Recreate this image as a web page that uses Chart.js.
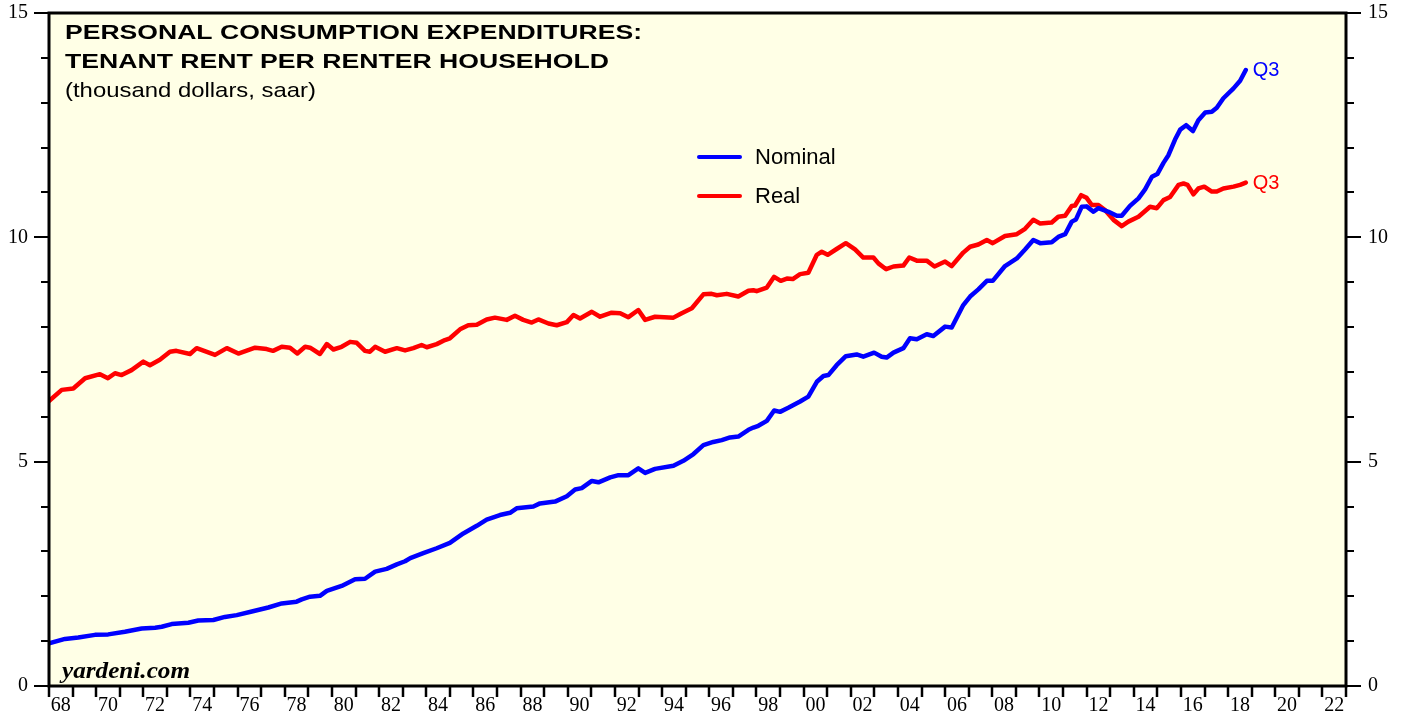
<!DOCTYPE html>
<html>
<head>
<meta charset="utf-8">
<script src="https://cdn.jsdelivr.net/npm/chart.js@4/dist/chart.umd.min.js"></script>
<style>
  html, body { margin: 0; padding: 0; background: #fff; }
  #wrap { width: 1405px; height: 719px; }
</style>
</head>
<body>
<div id="wrap"><canvas id="rent" width="1405" height="719"></canvas></div>
<script>
// thousand dollars, saar
var nominalYears = [1968.0, 1968.68, 1969.24, 1969.95, 1970.51, 1971.22, 1971.93, 1972.5, 1972.78, 1973.2,
    1973.91, 1974.33, 1974.97, 1975.46, 1975.96, 1976.6, 1977.3, 1977.87, 1978.5, 1978.72,
    1979.07, 1979.49, 1979.78, 1980.41, 1980.98, 1981.4, 1981.83, 1982.32, 1982.75, 1983.1,
    1983.32, 1983.87, 1984.44, 1985.0, 1985.57, 1986.14, 1986.56, 1987.12, 1987.55, 1987.83,
    1988.54, 1988.82, 1989.46, 1989.96, 1990.31, 1990.59, 1991.02, 1991.3, 1991.8, 1992.15,
    1992.57, 1992.99, 1993.28, 1993.7, 1994.48, 1994.9, 1995.33, 1995.75, 1996.17, 1996.53,
    1996.88, 1997.23, 1997.66, 1997.87, 1998.08, 1998.44, 1998.75, 1999.0, 1999.35, 1999.85,
    2000.2, 2000.56, 2000.84, 2001.05, 2001.4, 2001.79, 2002.25, 2002.53, 2002.99, 2003.31,
    2003.52, 2003.81, 2004.23, 2004.51, 2004.8, 2005.22, 2005.5, 2006.0, 2006.28, 2006.77,
    2007.06, 2007.41, 2007.77, 2008.02, 2008.54, 2009.04, 2009.39, 2009.74, 2010.03, 2010.52,
    2010.8, 2011.09, 2011.37, 2011.55, 2011.79, 2012.0, 2012.29, 2012.5, 2012.93, 2013.28,
    2013.49, 2013.84, 2014.2, 2014.48, 2014.77, 2015.0, 2015.26, 2015.47, 2015.75, 2015.97,
    2016.22, 2016.51, 2016.74, 2017.03, 2017.31, 2017.52, 2017.8, 2018.23, 2018.51, 2018.75]
var nominalValues = [0.95, 1.05, 1.08, 1.14, 1.15, 1.21, 1.28, 1.30, 1.32, 1.38,
    1.41, 1.46, 1.47, 1.54, 1.58, 1.66, 1.75, 1.84, 1.88, 1.93,
    1.99, 2.01, 2.12, 2.23, 2.38, 2.39, 2.55, 2.61, 2.71, 2.78,
    2.85, 2.96, 3.07, 3.19, 3.40, 3.57, 3.71, 3.81, 3.86, 3.96,
    4.00, 4.07, 4.11, 4.23, 4.38, 4.41, 4.57, 4.54, 4.65, 4.70,
    4.70, 4.85, 4.75, 4.84, 4.91, 5.02, 5.17, 5.37, 5.44, 5.48,
    5.54, 5.56, 5.71, 5.76, 5.80, 5.91, 6.14, 6.11, 6.20, 6.34,
    6.45, 6.78, 6.91, 6.93, 7.15, 7.35, 7.39, 7.34, 7.43, 7.34,
    7.32, 7.43, 7.53, 7.75, 7.73, 7.84, 7.80, 8.01, 7.99, 8.49,
    8.68, 8.84, 9.03, 9.03, 9.36, 9.53, 9.73, 9.94, 9.87, 9.89,
    10.01, 10.07, 10.35, 10.40, 10.68, 10.69, 10.57, 10.65, 10.57, 10.48,
    10.48, 10.70, 10.87, 11.07, 11.35, 11.41, 11.66, 11.83, 12.18, 12.40,
    12.50, 12.37, 12.61, 12.78, 12.80, 12.89, 13.10, 13.32, 13.49, 13.73]

var realYears = [1968.0, 1968.54, 1969.03, 1969.53, 1970.16, 1970.5, 1970.8, 1971.08, 1971.5, 1972.0,
    1972.28, 1972.7, 1973.13, 1973.4, 1973.98, 1974.26, 1975.04, 1975.54, 1976.03, 1976.74,
    1977.23, 1977.5, 1977.87, 1978.22, 1978.53, 1978.86, 1979.07, 1979.49, 1979.78, 1980.06,
    1980.41, 1980.77, 1981.05, 1981.4, 1981.61, 1981.83, 1982.25, 1982.75, 1983.1, 1983.45,
    1983.8, 1984.02, 1984.44, 1984.79, 1985.0, 1985.43, 1985.78, 1986.14, 1986.56, 1986.91,
    1987.41, 1987.76, 1988.11, 1988.47, 1988.75, 1989.18, 1989.53, 1989.96, 1990.24, 1990.52,
    1991.02, 1991.37, 1991.86, 1992.22, 1992.57, 1992.99, 1993.28, 1993.7, 1994.48, 1994.83,
    1995.26, 1995.75, 1996.1, 1996.32, 1996.74, 1997.23, 1997.66, 1997.87, 1998.01, 1998.44,
    1998.75, 1999.03, 1999.29, 1999.54, 1999.85, 2000.2, 2000.56, 2000.77, 2001.02, 2001.4,
    2001.79, 2002.18, 2002.53, 2002.96, 2003.17, 2003.5, 2003.81, 2004.23, 2004.48, 2004.8,
    2005.22, 2005.55, 2006.0, 2006.28, 2006.77, 2007.06, 2007.41, 2007.77, 2008.02, 2008.54,
    2009.04, 2009.39, 2009.74, 2010.03, 2010.52, 2010.8, 2011.09, 2011.37, 2011.51, 2011.77,
    2012.0, 2012.22, 2012.5, 2012.78, 2013.14, 2013.49, 2013.77, 2014.2, 2014.69, 2014.98,
    2015.26, 2015.54, 2015.9, 2016.11, 2016.28, 2016.53, 2016.74, 2016.99, 2017.31, 2017.52,
    2017.8, 2018.23, 2018.51, 2018.75]
var realValues = [6.35, 6.60, 6.63, 6.86, 6.95, 6.86, 6.97, 6.93, 7.04, 7.23,
    7.15, 7.27, 7.45, 7.47, 7.40, 7.53, 7.38, 7.53, 7.41, 7.54,
    7.51, 7.47, 7.56, 7.54, 7.41, 7.56, 7.54, 7.40, 7.62, 7.50,
    7.56, 7.67, 7.65, 7.47, 7.45, 7.56, 7.45, 7.53, 7.48, 7.53,
    7.60, 7.55, 7.62, 7.71, 7.75, 7.95, 8.04, 8.05, 8.17, 8.21,
    8.16, 8.25, 8.16, 8.10, 8.17, 8.08, 8.04, 8.11, 8.27, 8.19,
    8.34, 8.23, 8.32, 8.31, 8.22, 8.38, 8.16, 8.23, 8.21, 8.31,
    8.42, 8.73, 8.74, 8.71, 8.74, 8.68, 8.81, 8.82, 8.80, 8.88,
    9.12, 9.03, 9.08, 9.07, 9.18, 9.21, 9.61, 9.68, 9.61, 9.74,
    9.87, 9.73, 9.55, 9.55, 9.42, 9.29, 9.35, 9.37, 9.55, 9.48,
    9.48, 9.35, 9.46, 9.36, 9.66, 9.79, 9.84, 9.94, 9.87, 10.03,
    10.07, 10.19, 10.39, 10.31, 10.33, 10.46, 10.48, 10.70, 10.71, 10.94,
    10.88, 10.72, 10.72, 10.61, 10.39, 10.25, 10.35, 10.46, 10.68, 10.65,
    10.83, 10.90, 11.17, 11.20, 11.17, 10.96, 11.09, 11.13, 11.02, 11.02,
    11.09, 11.13, 11.17, 11.22]

var yearLabels = [68, 70, 72, 74, 76, 78, 80, 82, 84, 86, 88, 90, 92, 94, 96, 98,
    0, 2, 4, 6, 8, 10, 12, 14, 16, 18, 20, 22]
var seriesNames = ['Nominal', 'Real']
var seriesColors = ['#0000FF', '#FF0000']

var serif = '"Liberation Serif", "Times New Roman", serif'
var sans = '"Liberation Sans", Arial, Helvetica, sans-serif'

function pairs(xs, ys) {
    var out = []
    for (var i = 0; i < xs.length; i++) out.push({ x: xs[i], y: ys[i] })
    return out
}

// draws text squeezed/stretched to a set width, like the original's wide type
function fitText(ctx, text, x, y, font, w) {
    ctx.font = font
    var m = ctx.measureText(text).width
    ctx.save()
    ctx.translate(x, y)
    ctx.scale(w / m, 1)
    ctx.fillText(text, 0, 0)
    ctx.restore()
}

// no extra room for the 15 / 0 labels, the frame sits at fixed spots
function noPad(axis) {
    axis.paddingTop = 0
    axis.paddingBottom = 0
}

var decor = {
    id: 'decor',
    beforeDraw: function(chart) {
        var a = chart.chartArea, ctx = chart.ctx
        ctx.save()
        ctx.fillStyle = '#FFFFE6'
        ctx.fillRect(a.left, a.top, a.right - a.left, a.bottom - a.top)
        ctx.restore()
    },
    afterDraw: function(chart) {
        var a = chart.chartArea, ctx = chart.ctx
        var xs = chart.scales.x, ys = chart.scales.y
        ctx.save()
        ctx.strokeStyle = '#000'

        // tick marks
        ctx.lineWidth = 2
        for (var v = 0; v <= 15; v++) {
            var py = Math.round(ys.getPixelForValue(v))
            var len = v % 5 == 0 ? 15 : 8
            ctx.beginPath()
            ctx.moveTo(a.left - len, py); ctx.lineTo(a.left, py)
            ctx.moveTo(a.right, py); ctx.lineTo(a.right + len, py)
            ctx.stroke()
        }
        ctx.lineWidth = 2.5
        for (var yr = 1968; yr <= 2023; yr++) {
            var px = Math.round(xs.getPixelForValue(yr))
            ctx.beginPath()
            ctx.moveTo(px, a.bottom); ctx.lineTo(px, a.bottom + 11)
            ctx.stroke()
        }

        // frame
        ctx.lineWidth = 3
        ctx.strokeRect(a.left, a.top, a.right - a.left, a.bottom - a.top)

        // titles
        ctx.fillStyle = '#000'
        ctx.textBaseline = 'alphabetic'
        ctx.textAlign = 'left'
        fitText(ctx, 'PERSONAL CONSUMPTION EXPENDITURES:', 65, 39, 'bold 20px ' + sans, 577)
        fitText(ctx, 'TENANT RENT PER RENTER HOUSEHOLD', 65, 68, 'bold 20px ' + sans, 544)
        fitText(ctx, '(thousand dollars, saar)', 65, 97, '21px ' + sans, 251)
        fitText(ctx, 'yardeni.com', 62, 678, 'italic bold 24px ' + serif, 128)

        // legend
        var legY = [157, 196]
        ctx.lineWidth = 4
        ctx.lineCap = 'round'
        ctx.textBaseline = 'middle'
        ctx.font = '22px ' + sans
        for (var i = 0; i < seriesNames.length; i++) {
            ctx.strokeStyle = seriesColors[i]
            ctx.beginPath()
            ctx.moveTo(699, legY[i]); ctx.lineTo(740, legY[i])
            ctx.stroke()
            ctx.fillStyle = '#000'
            ctx.fillText(seriesNames[i], 755, legY[i] + 1)
        }

        // Q3 tags at the last points
        ctx.font = '20px ' + sans
        chart.data.datasets.forEach(function(ds, i) {
            var last = ds.data[ds.data.length - 1]
            ctx.fillStyle = seriesColors[i]
            ctx.fillText('Q3', xs.getPixelForValue(last.x) + 7, ys.getPixelForValue(last.y) + 1)
        })
        ctx.restore()
    }
}

var tickFont = { family: serif, size: 20 }

var ctx = document.getElementById('rent').getContext('2d')
var rentChart = new Chart(ctx, {
    type: 'line',
    data: {
        datasets: [{
            label: seriesNames[0],
            data: pairs(nominalYears, nominalValues),
            borderColor: seriesColors[0],
            borderWidth: 4.5,
            pointRadius: 0,
            borderJoinStyle: 'round',
            borderCapStyle: 'round',
            yAxisID: 'y'
        }, {
            label: seriesNames[1],
            data: pairs(realYears, realValues),
            borderColor: seriesColors[1],
            borderWidth: 4.5,
            pointRadius: 0,
            borderJoinStyle: 'round',
            borderCapStyle: 'round',
            yAxisID: 'y'
        }]
    },
    options: {
        responsive: false,
        animation: false,
        layout: { padding: { top: 13, left: 0, right: 0, bottom: 0 } },
        plugins: { legend: { display: false }, tooltip: { enabled: false } },
        scales: {
            x: {
                type: 'linear',
                position: 'bottom',
                min: 1968,
                max: 2023,
                grid: { display: false, drawTicks: false },
                border: { display: false },
                afterBuildTicks: function(axis) {
                    axis.ticks = yearLabels.map(function(y) {
                        return { value: (y >= 60 ? 1900 : 2000) + y + 0.5 }
                    })
                },
                afterFit: function(axis) {
                    axis.height = 33
                    axis.paddingLeft = 0
                    axis.paddingRight = 0
                },
                ticks: {
                    autoSkip: false,
                    maxRotation: 0,
                    padding: 8,
                    color: '#000',
                    font: tickFont,
                    callback: function(v) {
                        return String(Math.floor(v)).slice(2)
                    }
                }
            },
            y: {
                position: 'left',
                min: 0,
                max: 15,
                grid: { display: false, drawTicks: false },
                border: { display: false },
                afterFit: function(axis) { axis.width = 49; noPad(axis) },
                ticks: { stepSize: 5, padding: 21, color: '#000', font: tickFont }
            },
            y2: {
                position: 'right',
                min: 0,
                max: 15,
                grid: { display: false, drawTicks: false },
                border: { display: false },
                afterFit: function(axis) { axis.width = 59; noPad(axis) },
                ticks: { stepSize: 5, padding: 22, color: '#000', font: tickFont }
            }
        }
    },
    plugins: [decor]
})
</script>
</body>
</html>
